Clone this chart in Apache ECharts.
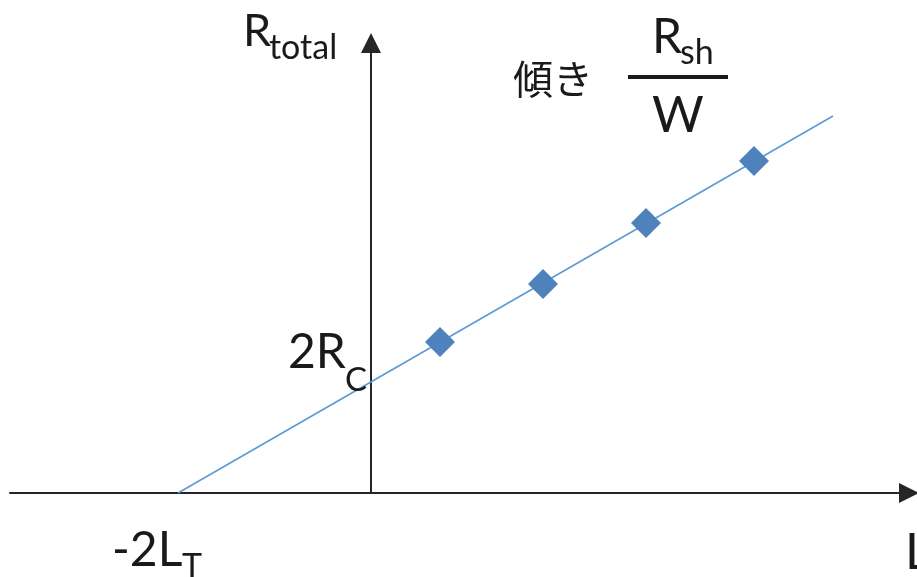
<!DOCTYPE html>
<html>
<head>
<meta charset="utf-8">
<script src="https://cdn.jsdelivr.net/npm/echarts@6/dist/echarts.min.js"></script>
<style>
  html, body { margin: 0; padding: 0; background: #fff; }
  #chart { width: 917px; height: 577px; }
</style>
</head>
<body>
<div id="chart"></div>
<script>
// TLM plot: total resistance versus pad spacing
const lengths = [0.69, 1.72, 2.75, 3.83];
const resistances = [1.51, 2.09, 2.70, 3.32];

// Linear fit through the measurements, extended to the L axis
const fitLengths = [-1.93, 4.62];
const fitResistances = [0, 3.77];
const rIntercept = 1.11;   // 2Rc, where the fit crosses L = 0
const lIntercept = -1.93;  // -2LT, where the fit crosses R = 0

const lRange = [-3.61, 5.38];
const rRange = [0, 4.5];

// Text shown on the plot
const yTitle = ['R', 'total'];
const xTitle = 'L';
const slopeWord = '傾き';
const slopeNum = ['R', 'sh'];
const slopeDen = 'W';
const rcLabel = ['2R', 'C'];
const ltLabel = ['-2L', 'T'];

const LATIN = 'Lato, "Open Sans", sans-serif';
const CJK = '"Noto Sans CJK JP", "Noto Sans", sans-serif';
const INK = '#1a1a1a';

const chart = echarts.init(document.getElementById('chart'));

const axisLineStyle = {
  show: true,
  onZero: true,
  symbol: ['none', 'triangle'],
  symbolSize: [20, 20],
  symbolOffset: [0, 0],
  lineStyle: { color: '#262626', width: 2 }
};

chart.setOption({
  animation: false,
  backgroundColor: '#ffffff',
  grid: { left: 10, right: 8, top: 43, bottom: 84 },
  xAxis: {
    type: 'value', min: lRange[0], max: lRange[1],
    axisLine: axisLineStyle,
    axisTick: { show: false }, axisLabel: { show: false }, splitLine: { show: false }
  },
  yAxis: {
    type: 'value', min: rRange[0], max: rRange[1],
    axisLine: axisLineStyle,
    axisTick: { show: false }, axisLabel: { show: false }, splitLine: { show: false }
  },
  series: [
    {
      type: 'line',
      data: fitLengths.map((l, i) => [l, fitResistances[i]]),
      symbol: 'none',
      silent: true,
      z: 2,
      lineStyle: { color: '#5b9bd5', width: 1.6 }
    },
    {
      type: 'scatter',
      data: lengths.map((l, i) => [l, resistances[i]]),
      symbol: 'diamond',
      symbolSize: 30,
      z: 3,
      itemStyle: { color: '#4f81bd', opacity: 1 }
    }
  ]
});

// Place a text element by its alphabetic baseline
function label(text, x, baseline, size, family, align) {
  return {
    type: 'text',
    z: 10,
    style: {
      text: text,
      x: x,
      y: baseline - 0.30 * size,
      font: size + 'px ' + family,
      fill: INK,
      align: align || 'left',
      verticalAlign: 'middle'
    }
  };
}

const origin = chart.convertToPixel({ gridIndex: 0 }, [0, 0]);
const rcPt = chart.convertToPixel({ gridIndex: 0 }, [0, rIntercept]);
const ltPt = chart.convertToPixel({ gridIndex: 0 }, [lIntercept, 0]);
const xEnd = chart.convertToPixel({ gridIndex: 0 }, [lRange[1], 0]);

chart.setOption({
  graphic: [
    // y axis title
    label(yTitle[0], 243, 45, 45, LATIN),
    label(yTitle[1], 269, 58, 34, LATIN),
    // x axis title
    label(xTitle, xEnd[0] - 4, 568, 50, LATIN),
    // slope annotation
    label(slopeWord, 513, 91, 40, CJK),
    label(slopeNum[0], 652, 52, 48, LATIN),
    label(slopeNum[1], 680, 63, 34, LATIN),
    {
      type: 'line', z: 10,
      shape: { x1: 628, y1: 77, x2: 728, y2: 77 },
      style: { stroke: INK, lineWidth: 4 }
    },
    label(slopeDen, 652, 131, 50, LATIN),
    // intercept on the R axis
    label(rcLabel[0], rcPt[0] - 83, rcPt[1] - 15, 48, LATIN),
    label(rcLabel[1], rcPt[0] - 26, rcPt[1] + 8, 33, LATIN),
    // intercept on the L axis
    label(ltLabel[0], ltPt[0] - 66, origin[1] + 72, 48, LATIN),
    label(ltLabel[1], ltPt[0] + 4, origin[1] + 84, 34, LATIN)
  ]
});
</script>
</body>
</html>
